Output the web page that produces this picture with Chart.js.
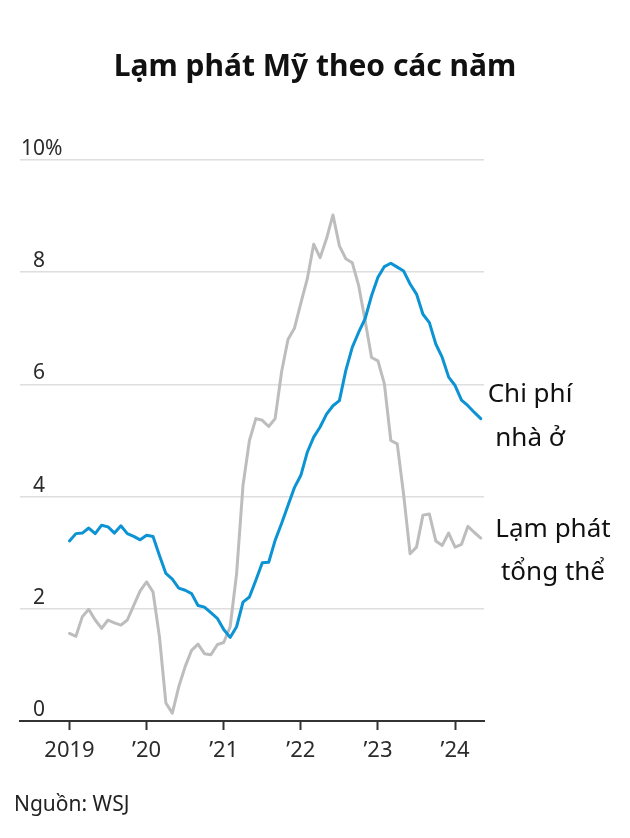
<!DOCTYPE html>
<html lang="vi">
<head>
<meta charset="UTF-8" />
<title>Lạm phát Mỹ theo các năm</title>
<script src="https://cdn.jsdelivr.net/npm/chart.js"></script>
<style>
    html, body { margin: 0; padding: 0; background: #fff; }
    .chart-box { position: relative; width: 630px; height: 838px; }
</style>
</head>
<body>
<div class="chart-box"><canvas id="canvas1"></canvas></div>
<script>
    // Tháng: 01/2019 -> 05/2024
    const months = [
        '01/2019','02/2019','03/2019','04/2019','05/2019','06/2019','07/2019','08/2019','09/2019','10/2019','11/2019','12/2019',
        '01/2020','02/2020','03/2020','04/2020','05/2020','06/2020','07/2020','08/2020','09/2020','10/2020','11/2020','12/2020',
        '01/2021','02/2021','03/2021','04/2021','05/2021','06/2021','07/2021','08/2021','09/2021','10/2021','11/2021','12/2021',
        '01/2022','02/2022','03/2022','04/2022','05/2022','06/2022','07/2022','08/2022','09/2022','10/2022','11/2022','12/2022',
        '01/2023','02/2023','03/2023','04/2023','05/2023','06/2023','07/2023','08/2023','09/2023','10/2023','11/2023','12/2023',
        '01/2024','02/2024','03/2024','04/2024','05/2024'
    ];

    // Chi phí nhà ở (%/năm)
    const shelter = [
        3.21, 3.34, 3.35, 3.44, 3.34, 3.49, 3.46, 3.35, 3.48, 3.34, 3.29, 3.23,
        3.31, 3.29, 2.95, 2.63, 2.53, 2.37, 2.33, 2.27, 2.06, 2.03, 1.93, 1.83,
        1.63, 1.49, 1.68, 2.12, 2.21, 2.51, 2.82, 2.83, 3.22, 3.52, 3.84, 4.16,
        4.38, 4.79, 5.06, 5.24, 5.47, 5.62, 5.71, 6.25, 6.66, 6.93, 7.17, 7.58,
        7.91, 8.10, 8.16, 8.09, 8.02, 7.79, 7.61, 7.25, 7.10, 6.72, 6.48, 6.13,
        5.98, 5.72, 5.62, 5.50, 5.39
    ];

    // Lạm phát tổng thể (%/năm)
    const headline = [
        1.56, 1.51, 1.86, 1.99, 1.80, 1.65, 1.80, 1.75, 1.71, 1.80, 2.06, 2.32,
        2.48, 2.30, 1.50, 0.32, 0.14, 0.61, 0.97, 1.26, 1.37, 1.20, 1.18, 1.36,
        1.40, 1.68, 2.62, 4.20, 5.00, 5.39, 5.36, 5.25, 5.39, 6.22, 6.80, 7.00,
        7.45, 7.88, 8.50, 8.26, 8.60, 9.02, 8.47, 8.24, 8.17, 7.76, 7.14, 6.48,
        6.42, 6.01, 5.00, 4.94, 4.03, 2.98, 3.10, 3.67, 3.69, 3.21, 3.13, 3.35,
        3.10, 3.15, 3.47, 3.36, 3.26
    ];

    const tickMonths = ['01/2019', '01/2020', '01/2021', '01/2022', '01/2023', '01/2024'];
    const tickLabels = ['2019', '\u201920', '\u201921', '\u201922', '\u201923', '\u201924'];
    const yTicks = [0, 2, 4, 6, 8, 10];

    const FONT = "'Noto Sans', 'DejaVu Sans', sans-serif";

    const toPoints = arr => arr.map((v, i) => ({ x: i, y: v }));

    // Vẽ chữ: tiêu đề, nhãn trục y, nhãn chuỗi, nguồn
    const textPlugin = {
        id: 'textPlugin',
        afterDraw(chart) {
            const ctx = chart.ctx;
            const y = chart.scales.y;
            const area = chart.chartArea;
            ctx.save();

            // tiêu đề
            ctx.fillStyle = '#111';
            ctx.font = "bold 30px " + FONT;
            ctx.textAlign = 'center';
            ctx.textBaseline = 'alphabetic';
            ctx.fillText('Lạm phát Mỹ theo các năm', 315, 76);

            // nhãn trục y (số canh phải, % treo bên ngoài)
            ctx.fillStyle = '#2b2b2b';
            ctx.font = "21px " + FONT;
            yTicks.forEach((t, i) => {
                const py = y.getPixelForValue(t) - 5;
                ctx.textAlign = 'right';
                ctx.fillText(String(t), area.left + 25, py);
                if (i === yTicks.length - 1) {
                    ctx.textAlign = 'left';
                    ctx.fillText('%', area.left + 25, py);
                }
            });

            // nhãn chuỗi
            ctx.fillStyle = '#111';
            ctx.font = "26px " + FONT;
            ctx.textAlign = 'center';
            const yShelter = y.getPixelForValue(shelter[shelter.length - 1]);
            ctx.fillText('Chi phí', area.right + 46, yShelter - 17);
            ctx.fillText('nhà ở', area.right + 46, yShelter + 27);
            const yHead = y.getPixelForValue(headline[headline.length - 1]);
            ctx.fillText('Lạm phát', area.right + 69, yHead - 1);
            ctx.fillText('tổng thể', area.right + 69, yHead + 42);

            // nguồn
            ctx.fillStyle = '#222';
            ctx.font = "21px " + FONT;
            ctx.textAlign = 'left';
            ctx.fillText('Nguồn: WSJ', 14, 811);

            ctx.restore();
        }
    };

    const ctx = document.getElementById('canvas1').getContext('2d');
    new Chart(ctx, {
        type: 'line',
        data: {
            datasets: [
                {
                    label: 'Chi phí nhà ở',
                    data: toPoints(shelter),
                    borderColor: '#0b93d3',
                    borderWidth: 3,
                    pointRadius: 0,
                    tension: 0,
                    borderJoinStyle: 'round',
                    borderCapStyle: 'round'
                },
                {
                    label: 'Lạm phát tổng thể',
                    data: toPoints(headline),
                    borderColor: '#bdbdbd',
                    borderWidth: 3,
                    pointRadius: 0,
                    tension: 0,
                    borderJoinStyle: 'round',
                    borderCapStyle: 'round'
                }
            ]
        },
        options: {
            responsive: true,
            maintainAspectRatio: false,
            animation: false,
            layout: { padding: { top: 160, left: 20, right: 146, bottom: 0 } },
            plugins: {
                legend: { display: false },
                title: { display: false },
                tooltip: { enabled: false }
            },
            scales: {
                x: {
                    type: 'linear',
                    min: -7.7,
                    max: 64.5,
                    afterBuildTicks: s => {
                        s.ticks = tickMonths.map(m => ({ value: months.indexOf(m) }));
                    },
                    afterFit: s => { s.height = 117; },
                    grid: {
                        drawOnChartArea: false,
                        drawTicks: true,
                        tickLength: 9,
                        tickColor: '#333',
                        tickWidth: 2
                    },
                    border: { display: true, color: '#333', width: 2 },
                    ticks: {
                        autoSkip: false,
                        maxRotation: 0,
                        padding: 8,
                        color: '#2b2b2b',
                        font: { family: FONT, size: 22 },
                        callback: v => {
                            const k = tickMonths.indexOf(months[v]);
                            return k >= 0 ? tickLabels[k] : '';
                        }
                    }
                },
                y: {
                    min: 0,
                    max: 10,
                    afterBuildTicks: s => {
                        s.ticks = yTicks.map(v => ({ value: v }));
                    },
                    afterFit: s => { s.width = 0; },
                    grid: {
                        color: '#dedede',
                        lineWidth: 1.5,
                        drawTicks: false
                    },
                    border: { display: false },
                    ticks: { display: false }
                }
            }
        },
        plugins: [textPlugin]
    });
</script>
</body>
</html>
